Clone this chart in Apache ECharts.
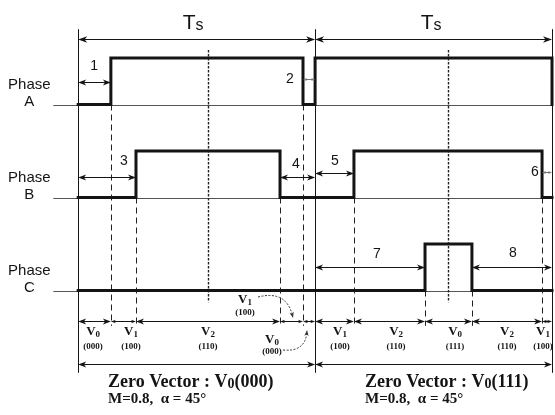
<!DOCTYPE html>
<html>
<head>
<meta charset="utf-8">
<script src="https://cdn.jsdelivr.net/npm/echarts@6/dist/echarts.min.js"></script>
<style>
  html, body { margin: 0; padding: 0; background: #fff; }
  #chart { width: 555px; height: 415px; }
</style>
</head>
<body>
<div id="chart"></div>
<script>
// Gate signals over two carrier periods; time is in units of Ts.
// Each phase lists the instants where its level changes and the level that follows.
const switchA = [0, 0.138, 0.949, 1.0, 2.0];
const levelA  = [0, 1, 0, 1, 0];
const switchB = [0, 0.244, 0.852, 1.164, 1.958];
const levelB  = [0, 1, 0, 1, 0];
const switchC = [0, 1.464, 1.662];
const levelC  = [0, 1, 0];
const periodEnds = [0, 1, 2];
const pulseCentres = [0.55, 1.562];
const phaseNames = ['A', 'B', 'C'];

// Voltage vector applied between consecutive switching instants
const vectorNames = ['V0', 'V1', 'V2', 'V1', 'V0', 'V1', 'V2', 'V0', 'V2', 'V1'];
const vectorCodes = ['000', '100', '110', '100', '000', '100', '110', '111', '110', '100'];

// Numbered time intervals
const intervalLabels = ['1', '2', '3', '4', '5', '6', '7', '8'];
const intervalStart  = [0, 0.949, 0, 0.852, 1.0, 1.958, 1.0, 1.662];
const intervalEnd    = [0.138, 1.0, 0.244, 1.0, 1.164, 2.0, 1.464, 2.0];

const periodLabel = 'Ts';
const zeroVectorCodes = ['000', '111'];
const conditionText = 'M=0.8,  \u03b1 = 45\u00b0';

// ---- layout (y is in lane units: 0 = phase A low level, one unit = pulse height) ----
const INK = '#141414';
const SANS = '"Liberation Sans", Arial, sans-serif';
const NARROW = '"Liberation Sans Narrow", "Liberation Sans", Arial, sans-serif';
const SERIF = '"Liberation Serif", "Times New Roman", serif';
const LANE = [0, -2, -4];
const BASELINE_FROM = -0.105;
const GUIDE_BOTTOM = -4.76;
const CENTRE_TOP = 1.17, CENTRE_BOTTOM = -4.25;
const FRAME_TOP = 1.62, FRAME_BOTTOM = -5.77;
const TS_ROW = 1.40, TS_LABEL_Y = 1.75, TS_LABEL_T = [0.485, 1.49];
const VECTOR_ROW = -4.656, SPAN_ROW = -5.58;
const PHASE_LABEL_T = -0.206;
const intervalRowY = [0.484, 0.55, -1.55, -1.55, -1.47, -1.45, -3.49, -3.49];
const intervalLabelAt = [[0.067, 0.83], [0.894, 0.55], [0.193, -1.215], [0.919, -1.28],
                         [1.084, -1.215], [1.928, -1.45], [1.261, -3.215], [1.835, -3.19]];
const intervalHead = [8, 4, 8, 8, 8, 4, 8, 8];
const VECTOR_LABEL_Y = -4.892;
const vectorLabelT = [0.063, 0.223, 0.548, 0.704, 0.818, 1.105, 1.342, 1.591, 1.81, 1.962];
const vectorLabelY = [VECTOR_LABEL_Y, VECTOR_LABEL_Y, VECTOR_LABEL_Y, -4.204, -5.065,
                      VECTOR_LABEL_Y, VECTOR_LABEL_Y, VECTOR_LABEL_Y, VECTOR_LABEL_Y, VECTOR_LABEL_Y];
const vectorCodeGap = [15, 15, 15, 13, 12, 15, 15, 15, 15, 15];
// dotted pointers for the two short vectors at the end of the first period: [t0, y0, t1, y1, curveness]
const pointers = [[0.759, -4.14, 0.907, -4.59, 0.5], [0.864, -5.28, 0.966, -4.85, -0.5]];
const TITLE_T = [0.126, 1.211], TITLE_Y = -5.98, CONDITION_Y = -6.33;

const switches = [switchA, switchB, switchC];
const levels = [levelA, levelB, levelC];
const lastT = periodEnds[periodEnds.length - 1];

function wave(p) {
  const pts = switches[p].map((t, i) => [t, LANE[p] + levels[p][i]]);
  pts.push([lastT, LANE[p] + levels[p][levels[p].length - 1]]);
  return pts;
}

const crisp = v => Math.round(v) + 0.5;

// straight line segments [t0, y0, t1, y1]
function segSeries(segs, style, z) {
  return {
    type: 'custom', silent: true, z: z, clip: false, data: segs,
    renderItem: (params, api) => {
      let a = api.coord([api.value(0), api.value(1)]);
      let b = api.coord([api.value(2), api.value(3)]);
      if (Math.abs(a[0] - b[0]) < 0.01) { a[0] = b[0] = crisp(a[0]); }
      if (Math.abs(a[1] - b[1]) < 0.01) { a[1] = b[1] = crisp(a[1]); }
      return { type: 'line', shape: { x1: a[0], y1: a[1], x2: b[0], y2: b[1] },
               style: Object.assign({ fill: null }, style) };
    }
  };
}

function head(tip, dir, h, color) {
  const w = h * 0.36, nx = -dir[1], ny = dir[0];
  const bx = tip[0] - dir[0] * h, by = tip[1] - dir[1] * h;
  const mx = tip[0] - dir[0] * h * 0.72, my = tip[1] - dir[1] * h * 0.72;
  return { type: 'polygon', shape: { points: [tip, [bx + nx * w, by + ny * w], [mx, my], [bx - nx * w, by - ny * w]] },
           style: { fill: color, stroke: null } };
}

// double-headed dimension arrows [t0, t1, y, headSize]
function arrowSeries(items, color, z) {
  return {
    type: 'custom', silent: true, z: z, clip: false, data: items,
    renderItem: (params, api) => {
      const y = api.value(2), h = api.value(3);
      const a = api.coord([api.value(0), y]);
      const b = api.coord([api.value(1), y]);
      const yy = crisp(a[1]);
      a[1] = b[1] = yy;
      return {
        type: 'group',
        children: [
          { type: 'line', shape: { x1: a[0] + h * 0.6, y1: yy, x2: b[0] - h * 0.6, y2: yy },
            style: { stroke: color, lineWidth: 1 } },
          head(a, [-1, 0], h, color),
          head(b, [1, 0], h, color)
        ]
      };
    }
  };
}

const option = {
  animation: false,
  backgroundColor: '#fff',
  grid: { left: 0, right: 3, top: 11.5, bottom: 8.25 },
  xAxis: { type: 'value', min: -0.33, max: 2, show: false },
  yAxis: { type: 'value', min: -6.5, max: 2, show: false },
  series: []
};

// thin baselines of each phase
option.series.push(segSeries(LANE.map(y => [BASELINE_FROM, y, lastT, y]),
  { stroke: '#555', lineWidth: 1 }, 1));

// period boundaries
option.series.push(segSeries(periodEnds.map(t => [t, FRAME_TOP, t, FRAME_BOTTOM]),
  { stroke: INK, lineWidth: 1 }, 2));

// dashed guides from every switching edge down to the vector row
const guides = [];
switches.forEach((ts, p) => ts.forEach(t => {
  if (periodEnds.indexOf(t) < 0) guides.push([t, LANE[p], t, GUIDE_BOTTOM]);
}));
option.series.push(segSeries(guides, { stroke: '#222', lineWidth: 1, lineDash: [6, 4] }, 2));

// pulse centre lines
option.series.push(segSeries(pulseCentres.map(t => [t, CENTRE_TOP, t, CENTRE_BOTTOM]),
  { stroke: '#222', lineWidth: 1.4, lineDash: [2.5, 1.5] }, 2));

// gate waveforms
phaseNames.forEach((n, p) => {
  option.series.push({
    type: 'line', name: 'Phase ' + n, data: wave(p), step: 'end', symbol: 'none',
    clip: false, silent: true, z: 5,
    lineStyle: { color: INK, width: 3, join: 'miter', cap: 'square' }
  });
});

// period arrows (Ts) and overall span arrows
const periodArrows = [], spanArrows = [];
for (let i = 0; i < periodEnds.length - 1; i++) {
  periodArrows.push([periodEnds[i], periodEnds[i + 1], TS_ROW, 9]);
  spanArrows.push([periodEnds[i], periodEnds[i + 1], SPAN_ROW, 8]);
}
option.series.push(arrowSeries(periodArrows, INK, 6));
option.series.push(arrowSeries(spanArrows, INK, 6));

// numbered interval arrows
const bigIntervals = [], smallIntervals = [];
intervalLabels.forEach((l, i) => {
  const item = [intervalStart[i], intervalEnd[i], intervalRowY[i], intervalHead[i]];
  (intervalHead[i] < 6 ? smallIntervals : bigIntervals).push(item);
});
option.series.push(arrowSeries(bigIntervals, INK, 6));
option.series.push(arrowSeries(smallIntervals, '#777', 6));

// vector row arrows between consecutive switching instants
const bounds = Array.from(new Set([].concat(switchA, switchB, switchC, periodEnds))).sort((a, b) => a - b);
const vectorArrows = [];
for (let i = 0; i < bounds.length - 1; i++) {
  const width = bounds[i + 1] - bounds[i];
  vectorArrows.push([bounds[i], bounds[i + 1], VECTOR_ROW, width < 0.12 ? 5 : 8]);
}
option.series.push(arrowSeries(vectorArrows, INK, 6));

// curved dotted pointers
option.series.push({
  type: 'custom', silent: true, z: 6, clip: false, data: pointers,
  renderItem: (params, api) => {
    const a = api.coord([api.value(0), api.value(1)]);
    const b = api.coord([api.value(2), api.value(3)]);
    const c = api.value(4);
    const cp = [(a[0] + b[0]) / 2 - (a[1] - b[1]) * c, (a[1] + b[1]) / 2 - (b[0] - a[0]) * c];
    let dx = b[0] - cp[0], dy = b[1] - cp[1];
    const len = Math.hypot(dx, dy); dx /= len; dy /= len;
    return {
      type: 'group',
      children: [
        { type: 'bezierCurve', shape: { x1: a[0], y1: a[1], x2: b[0] - dx * 3, y2: b[1] - dy * 3, cpx1: cp[0], cpy1: cp[1] },
          style: { stroke: '#333', lineWidth: 1, lineDash: [2, 1.5], fill: null } },
        head(b, [dx, dy], 6, '#333')
      ]
    };
  }
});

// ---- text annotations ----
const notes = [];   // {at: [t, y], make: (x, y) => elements}
function txt(x, y, text, font, align, fill) {
  return { type: 'text', x: x, y: y,
           style: { text: text, font: font, fill: fill || INK, align: align || 'center', verticalAlign: 'middle' } };
}

phaseNames.forEach((n, p) => notes.push({
  at: [PHASE_LABEL_T, LANE[p]],
  make: (x, y) => [txt(x, y - 20, 'Phase', '15px ' + SANS), txt(x, y - 3, n, '15px ' + SANS)]
}));

TS_LABEL_T.forEach(t => notes.push({
  at: [t, TS_LABEL_Y],
  make: (x, y) => [{
    type: 'text', x: x, y: y,
    style: { text: '{t|T}{s|s}', fill: INK, align: 'center', verticalAlign: 'middle',
             rich: { t: { font: '21px ' + NARROW, lineHeight: 21, verticalAlign: 'bottom' },
                     s: { font: '16px ' + SANS, lineHeight: 16, verticalAlign: 'bottom' } } }
  }]
}));

intervalLabels.forEach((l, i) => notes.push({
  at: intervalLabelAt[i],
  make: (x, y) => [txt(x, y, l, '14px ' + SANS)]
}));

vectorNames.forEach((name, i) => notes.push({
  at: [vectorLabelT[i], vectorLabelY[i]],
  make: (x, y) => [
    txt(x + 2.5, y, 'V', 'bold 13px ' + SERIF, 'right'),
    txt(x + 2.5, y + 3, name.slice(1), 'bold 9px ' + SERIF, 'left'),
    txt(x, y + vectorCodeGap[i], '(' + vectorCodes[i] + ')', 'bold 9px ' + SERIF)
  ]
}));

zeroVectorCodes.forEach((code, i) => {
  notes.push({
    at: [TITLE_T[i], TITLE_Y],
    make: (x, y) => [{
      type: 'text', x: x, y: y,
      style: { text: '{b|Zero Vector : V}{z|0}{b|(' + code + ')}', fill: INK, align: 'left', verticalAlign: 'middle',
               rich: { b: { font: 'bold 18px ' + SERIF, lineHeight: 18, verticalAlign: 'bottom' },
                       z: { font: 'bold 14px ' + SERIF, lineHeight: 14, verticalAlign: 'bottom' } } }
    }]
  });
  notes.push({
    at: [TITLE_T[i], CONDITION_Y],
    make: (x, y) => [txt(x, y, conditionText, 'bold 15px ' + SERIF, 'left')]
  });
});

option.series.push({
  type: 'custom', silent: true, z: 10, clip: false,
  data: notes.map(n => n.at),
  renderItem: (params, api) => {
    const p = api.coord([api.value(0), api.value(1)]);
    return { type: 'group', children: notes[params.dataIndex].make(p[0], p[1]) };
  }
});

const chart = echarts.init(document.getElementById('chart'), null, { renderer: 'canvas' });
chart.setOption(option);
</script>
</body>
</html>
